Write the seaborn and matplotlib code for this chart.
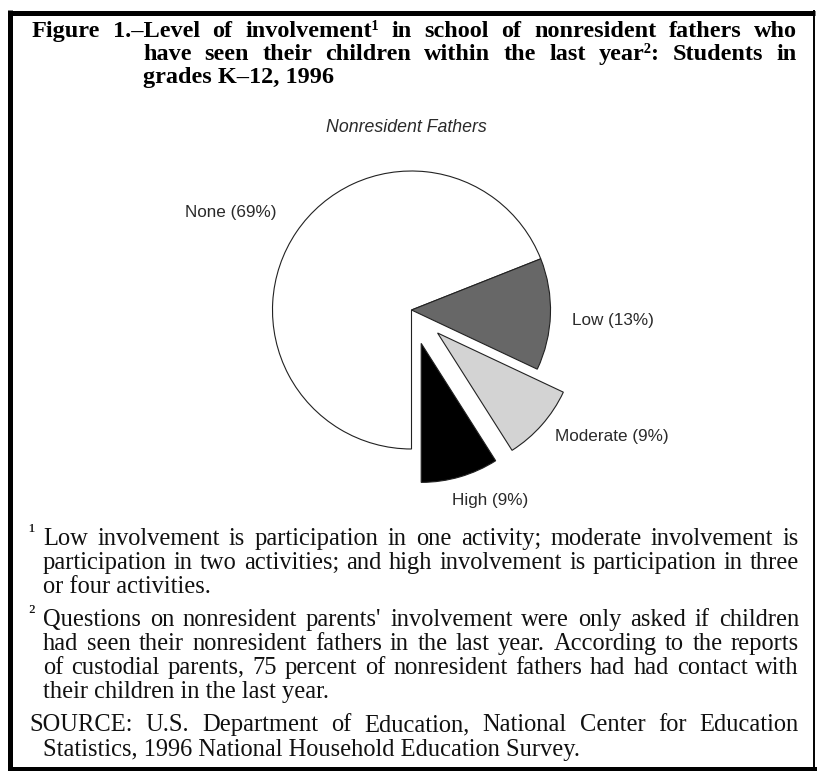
import matplotlib
matplotlib.use("Agg")
import matplotlib.pyplot as plt
import seaborn as sns
import pandas as pd
from matplotlib.font_manager import FontProperties

# ---------------- data ----------------
categories = ["None", "Low", "Moderate", "High"]
percents = [69, 13, 9, 9]
slice_colors = ["#ffffff", "#676767", "#d3d3d3", "#000000"]
explode_amounts = [0, 0, 0.25, 0.25]

pie_title = "Nonresident Fathers"

title_lines = [
    "Figure 1.\u2013Level of involvement\u00b9 in school of nonresident fathers who",
    "have seen their children within the last year\u00b2: Students in",
    "grades K\u201312, 1996",
]

footnote1 = [
    "Low involvement is participation in one activity; moderate involvement is",
    "participation in two activities; and high involvement is participation in three",
    "or four activities.",
]
footnote2 = [
    "Questions on nonresident parents' involvement were only asked if children",
    "had seen their nonresident fathers in the last year.  According to the reports",
    "of custodial parents, 75 percent of nonresident fathers had had contact with",
    "their children in the last year.",
]
source_lines = [
    "SOURCE: U.S. Department of Education, National Center for Education",
    "Statistics, 1996 National Household Education Survey.",
]

# ---------------- setup ----------------
sns.set_theme(style="white")
plt.rcParams["font.family"] = ["Liberation Sans", "DejaVu Sans"]

W, H = 817, 771
fig = plt.figure(figsize=(W / 100, H / 100), dpi=100)
fig.patch.set_facecolor("white")
ax = fig.add_axes([0, 0, 1, 1])

df = pd.DataFrame({"category": categories, "percent": percents})

R = 139
wedges, _ = ax.pie(
    df["percent"],
    colors=slice_colors,
    explode=[e * R for e in explode_amounts],
    startangle=270,
    counterclock=False,
    center=(411.5, H - 310),
    radius=R,
    wedgeprops=dict(edgecolor="#222222", linewidth=0.8),
)
ax.set_xlim(0, W)
ax.set_ylim(0, H)
ax.set_aspect("auto")
ax.axis("off")

renderer = fig.canvas.get_renderer()


def text_width(s, fp):
    t = ax.text(0, 0, s, fontproperties=fp)
    w = t.get_window_extent(renderer).width
    t.remove()
    return w


def fit_size(fp_kwargs, s, target):
    fp = FontProperties(size=10, **fp_kwargs)
    w = text_width(s, fp)
    return 10 * target / w


def draw_line(line, x0, x1, y, fp, justify, color="black"):
    if not justify:
        ax.text(x0, H - y, line, fontproperties=fp, ha="left", va="baseline", color=color)
        return
    words = line.split()
    widths = [text_width(w, fp) for w in words]
    gap = (x1 - x0 - sum(widths)) / (len(words) - 1)
    x = x0
    for w, wd in zip(words, widths):
        ax.text(x, H - y, w, fontproperties=fp, ha="left", va="baseline", color=color)
        x += wd + gap


# ---------------- title ----------------
tkw = dict(family="Liberation Serif", weight="bold")
tsize = fit_size(tkw, title_lines[2], 190)
tfp = FontProperties(size=tsize, **tkw)
draw_line(title_lines[0], 32, 797, 37, tfp, True)
draw_line(title_lines[1], 143, 797, 60, tfp, True)
draw_line(title_lines[2], 143, 797, 83, tfp, False)

# ---------------- footnotes ----------------
fkw = dict(family="Liberation Serif")
fsize = fit_size(fkw, source_lines[1], 540)
ffp = FontProperties(size=fsize, **fkw)
sup_fp = FontProperties(size=fsize * 0.85, **fkw)

y = 545
for i, line in enumerate(footnote1):
    draw_line(line, 43, 799, y, ffp, i < len(footnote1) - 1, "#111111")
    y += 24
ax.text(28, H - 538, "\u00b9", fontproperties=sup_fp, ha="left", va="baseline", color="#111111")

y = 626
for i, line in enumerate(footnote2):
    draw_line(line, 43, 799, y, ffp, i < len(footnote2) - 1, "#111111")
    y += 24
ax.text(28, H - 619, "\u00b2", fontproperties=sup_fp, ha="left", va="baseline", color="#111111")

draw_line(source_lines[0], 29, 799, 731, ffp, True, "#111111")
draw_line(source_lines[1], 43, 799, 756, ffp, False, "#111111")

# ---------------- pie labels ----------------
lab_fp = FontProperties(family="Liberation Sans", size=12.3)
label_pos = {
    "None": (277, 213, "right"),
    "Low": (572, 320, "left"),
    "Moderate": (555, 437, "left"),
    "High": (452, 500, "left"),
}
for cat, pct in zip(categories, percents):
    x, yy, ha = label_pos[cat]
    ax.text(x, H - yy, f"{cat} ({pct}%)", fontproperties=lab_fp, ha=ha, va="center", color="#2a2a2a")

ax.text(406, H - 128, pie_title, fontproperties=FontProperties(family="Liberation Sans", style="italic", size=12.8),
        ha="center", va="center", color="#2a2a2a")

# ---------------- frame ----------------
ax.plot([8, 815], [H - 12.5, H - 12.5], color="black", lw=3.6, solid_capstyle="butt")
ax.plot([10.5, 10.5], [H - 10, H - 771], color="black", lw=3.6, solid_capstyle="butt")
ax.plot([8, 817], [H - 768.5, H - 768.5], color="black", lw=3.6, solid_capstyle="butt")
ax.plot([814, 814], [H - 10, H - 771], color="black", lw=1.4, solid_capstyle="butt")

fig.savefig("out.png", dpi=100, facecolor="white")
